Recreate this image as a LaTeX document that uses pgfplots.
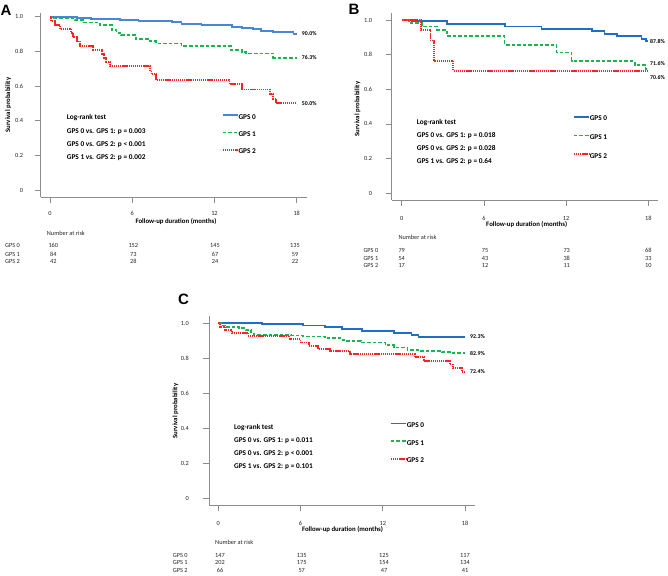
\documentclass[border=0pt]{standalone}
\usepackage{pgfplots}
\pgfplotsset{compat=1.18}
\usepackage{fontspec}
\setmainfont{Carlito}
\setsansfont{Liberation Sans}
\definecolor{gblueA}{HTML}{4A86D8}
\definecolor{gblue}{HTML}{1F6FC8}
\definecolor{ggreen}{HTML}{1DB34F}
\definecolor{gred}{HTML}{FF2222}
\definecolor{axgray}{HTML}{8C8C8C}
\pgfplotsset{
  km/.style={
    scale only axis, axis lines=left,
    axis line style={draw=axgray, line width=0.8pt, -},
    xtick={0,6,12,18}, xticklabels={0,6,12,18},
    ytick={0,0.2,0.4,0.6,0.8,1}, yticklabels={0,0.2,0.4,0.6,0.8,1.0},
    tick align=outside, major tick length=6pt,
    tick style={draw=axgray, line width=0.7pt},
    tick label style={font=\fontsize{6.3}{7}\selectfont, text=black!85},
    clip=false,
    legend cell align=left,
    legend image code/.code={\draw[##1] (0pt,2.3pt) -- (15pt,2.3pt);},
    legend style={draw=none, fill=none, inner sep=0pt, outer sep=0pt, anchor=north west,
      font=\fontsize{7.3}{8}\selectfont\bfseries, nodes={inner sep=0pt},
      /tikz/every even column/.append style={column sep=8.3pt}},
  },
  g0/.style={draw=gblue, line width=1.8pt},
  g0a/.style={draw=gblueA, line width=1.8pt},
  g1/.style={draw=ggreen, line width=1.8pt, dash pattern=on 3.6pt off 2pt},
  g2/.style={draw=gred, line width=1.8pt, dash pattern=on 1.3pt off 0.8pt},
}
\tikzset{
  endl/.style={anchor=west, inner sep=0pt, font=\fontsize{5.8}{6}\selectfont\bfseries},
  lr/.style={anchor=base west, inner sep=0pt, font=\fontsize{7.3}{8}\selectfont\bfseries},
  axl/.style={inner sep=0pt, font=\fontsize{6.8}{7}\selectfont\bfseries},
  rk/.style={inner sep=0pt, font=\fontsize{6.3}{7}\selectfont, text=black!85},
  pl/.style={anchor=base, inner sep=0pt, font=\sffamily\fontsize{15}{15}\selectfont\bfseries},
}
\begin{document}
\begin{tikzpicture}[x=1pt,y=1pt]
\useasboundingbox (0,0) rectangle (668,575);

% ---------------- Panel A ----------------
\begin{axis}[km, at={(40.7pt,378pt)}, anchor=south west,
  width=266pt, height=183.7pt,
  xmin=-0.679, xmax=18.73, ymin=-0.0404, ymax=1.0196,
  xticklabel style={yshift=-5pt}, yticklabel style={xshift=-8pt},
  legend style={at={(0.6805,0.4505)}, row sep=11pt}]
\addplot[g0a, const plot] coordinates {(0,1)(1.95,0.994)(3.0,0.988)(5.1,0.981)(6.45,0.975)(8.9,0.969)(9.6,0.960)(11.05,0.950)(13.26,0.942)(14.0,0.933)(14.8,0.927)(15.4,0.919)(16.3,0.910)(17.76,0.900)(18,0.900)};
\addlegendentry{GPS 0}
\addplot[g1, const plot] coordinates {(0,1)(0.3,0.990)(1.8,0.980)(2.4,0.966)(3.65,0.952)(4.5,0.925)(4.85,0.905)(5.2,0.893)(6.3,0.870)(7.3,0.858)(7.75,0.845)(9.6,0.833)(13.2,0.81)(14.0,0.797)(14.3,0.788)(16.3,0.763)(18,0.763)};
\addlegendentry{GPS 1}
\addplot[g2, const plot] coordinates {(0,1)(0.1,0.976)(0.35,0.952)(0.73,0.929)(1.55,0.905)(1.7,0.881)(1.95,0.857)(2.2,0.833)(3.16,0.81)(3.77,0.786)(3.95,0.762)(4.1,0.738)(4.38,0.714)(7.3,0.69)(7.4,0.667)(7.75,0.635)(13.1,0.61)(14.0,0.58)(16.05,0.555)(16.3,0.527)(16.5,0.5)(18,0.5)};
\addlegendentry{GPS 2}
\node[endl, xshift=5pt] at (axis cs:18,0.900) {90.0\%};
\node[endl, xshift=5pt] at (axis cs:18,0.763) {76.3\%};
\node[endl, xshift=5pt] at (axis cs:18,0.500) {50.0\%};
\end{axis}
\node[pl] at (6,575-15.3) {A};
\node[axl, rotate=90] at (8.3,575-105) {Survival probability};
\node[axl, anchor=base] at (176,575-223.2) {Follow-up duration (months)};
\node[lr] at (66.7,575-119.65) {Log-rank test};
\node[lr] at (66.7,575-133.05) {GPS 0 vs. GPS 1: p = 0.003};
\node[lr] at (66.7,575-146.65) {GPS 0 vs. GPS 2: p < 0.001};
\node[lr] at (66.7,575-159.05) {GPS 1 vs. GPS 2: p = 0.002};
\node[rk, anchor=base west] at (46.7,575-235.3) {Number at risk};
\node[rk, anchor=base west] at (5,575-248) {GPS 0};
\node[rk, anchor=base west] at (5,575-256.3) {GPS 1};
\node[rk, anchor=base west] at (5,575-263.7) {GPS 2};
\foreach \xx/\a/\b/\c in {53.3/160/84/42, 133.3/152/73/28, 215/145/67/24, 295/135/59/22} {
  \node[rk, anchor=base] at (\xx,575-248) {\a};
  \node[rk, anchor=base] at (\xx,575-256.3) {\b};
  \node[rk, anchor=base] at (\xx,575-263.7) {\c};
}

% ---------------- Panel B ----------------
\begin{axis}[km, at={(391.7pt,375pt)}, anchor=south west,
  width=266.6pt, height=186.7pt,
  xmin=-0.73, xmax=18.73, ymin=-0.0387, ymax=1.0387,
  xticklabel style={yshift=-7pt}, yticklabel style={xshift=-10pt},
  legend style={at={(0.680,0.4507)}, row sep=12.4pt}]
\addplot[g0, const plot] coordinates {(0,1)(0.73,0.992)(3.28,0.975)(7.54,0.963)(10.2,0.946)(13.9,0.935)(14.8,0.92)(15.7,0.907)(17.5,0.892)(17.85,0.878)(18,0.878)};
\addlegendentry{GPS 0}
\addplot[g1, const plot] coordinates {(0,1)(0.55,0.981)(1.46,0.963)(2.6,0.944)(3.3,0.906)(7.5,0.858)(11.3,0.812)(12.4,0.765)(17.0,0.74)(17.8,0.716)(18,0.716)};
\addlegendentry{GPS 1}
\addplot[g2, const plot] coordinates {(0,1)(1.4,0.941)(2.1,0.882)(2.35,0.765)(3.77,0.706)(18,0.706)};
\addlegendentry{GPS 2}
\node[endl, xshift=1.7pt] at (axis cs:18,0.878) {87.8\%};
\node[endl, xshift=1.7pt] at (axis cs:18,0.746) {71.6\%};
\node[endl, xshift=1.7pt] at (axis cs:18,0.669) {70.6\%};
\end{axis}
\node[pl] at (354,575-15) {B};
\node[axl, rotate=90] at (357.5,575-109) {Survival probability};
\node[axl, anchor=base] at (526.7,575-226.5) {Follow-up duration (months)};
\node[lr] at (416.7,575-124.05) {Log-rank test};
\node[lr] at (416.7,575-137.05) {GPS 0 vs. GPS 1: p = 0.018};
\node[lr] at (416.7,575-150.05) {GPS 0 vs. GPS 2: p = 0.028};
\node[lr] at (416.7,575-163.05) {GPS 1 vs. GPS 2: p = 0.64};
\node[rk, anchor=base west] at (398.3,575-239.7) {Number at risk};
\node[rk, anchor=base west] at (363.3,575-252.7) {GPS 0};
\node[rk, anchor=base west] at (363.3,575-260.3) {GPS 1};
\node[rk, anchor=base west] at (363.3,575-268) {GPS 2};
\foreach \xx/\a/\b/\c in {401.7/79/54/17, 485/75/43/12, 566.7/73/38/11, 648.3/68/33/10} {
  \node[rk, anchor=base] at (\xx,575-252.7) {\a};
  \node[rk, anchor=base] at (\xx,575-260.3) {\b};
  \node[rk, anchor=base] at (\xx,575-268) {\c};
}

% ---------------- Panel C ----------------
\begin{axis}[km, at={(209.3pt,70pt)}, anchor=south west,
  width=265.7pt, height=189pt,
  xmin=-0.657, xmax=18.73, ymin=-0.038, ymax=1.042,
  xticklabel style={yshift=-7pt}, yticklabel style={xshift=-11pt},
  legend style={at={(0.680,0.436)}, row sep=11.4pt}]
\addplot[g0, const plot] coordinates {(0,1)(3.2,0.995)(6.2,0.988)(7.8,0.98)(9.0,0.967)(10.5,0.957)(12.8,0.946)(14.1,0.935)(14.6,0.923)(18,0.923)};
\addlegendentry{GPS 0}
\addplot[g1, const plot] coordinates {(0,1)(0.2,0.988)(0.5,0.981)(1.5,0.972)(2.0,0.962)(2.4,0.95)(2.6,0.935)(5.3,0.93)(6.2,0.925)(7.8,0.915)(9.0,0.905)(9.4,0.898)(10.4,0.89)(12.2,0.875)(12.8,0.862)(13.8,0.848)(14.8,0.842)(16.3,0.835)(17.0,0.829)(18,0.829)};
\addlegendentry{GPS 1}
\addplot[g2, const plot] coordinates {(0,1)(0.12,0.98)(0.5,0.96)(1.0,0.945)(2.2,0.928)(5.2,0.91)(6.0,0.89)(6.6,0.87)(7.3,0.855)(8.15,0.84)(9.6,0.823)(14.35,0.806)(15.0,0.785)(16.9,0.765)(17.15,0.745)(17.76,0.724)(18,0.724)};
\addlegendentry{GPS 2}
\node[endl, xshift=5pt] at (axis cs:18,0.923) {92.3\%};
\node[endl, xshift=5pt] at (axis cs:18,0.829) {82.9\%};
\node[endl, xshift=5pt] at (axis cs:18,0.724) {72.4\%};
\end{axis}
\node[pl] at (183.5,575-305) {C};
\node[axl, rotate=90] at (175.5,575-411) {Survival probability};
\node[axl, anchor=base] at (342.5,575-531.5) {Follow-up duration (months)};
\node[lr] at (234,575-429.05) {Log-rank test};
\node[lr] at (234,575-442.05) {GPS 0 vs. GPS 1: p = 0.011};
\node[lr] at (234,575-455.05) {GPS 0 vs. GPS 2: p < 0.001};
\node[lr] at (234,575-468.05) {GPS 1 vs. GPS 2: p = 0.101};
\node[rk, anchor=base west] at (215,575-544.7) {Number at risk};
\node[rk, anchor=base west] at (172.7,575-557) {GPS 0};
\node[rk, anchor=base west] at (172.7,575-564.7) {GPS 1};
\node[rk, anchor=base west] at (172.7,575-572.7) {GPS 2};
\foreach \xx/\a/\b/\c in {220/147/202/66, 301.7/135/175/57, 384/125/154/47, 465/117/134/41} {
  \node[rk, anchor=base] at (\xx,575-557) {\a};
  \node[rk, anchor=base] at (\xx,575-564.7) {\b};
  \node[rk, anchor=base] at (\xx,575-572.7) {\c};
}
\end{tikzpicture}
\end{document}
